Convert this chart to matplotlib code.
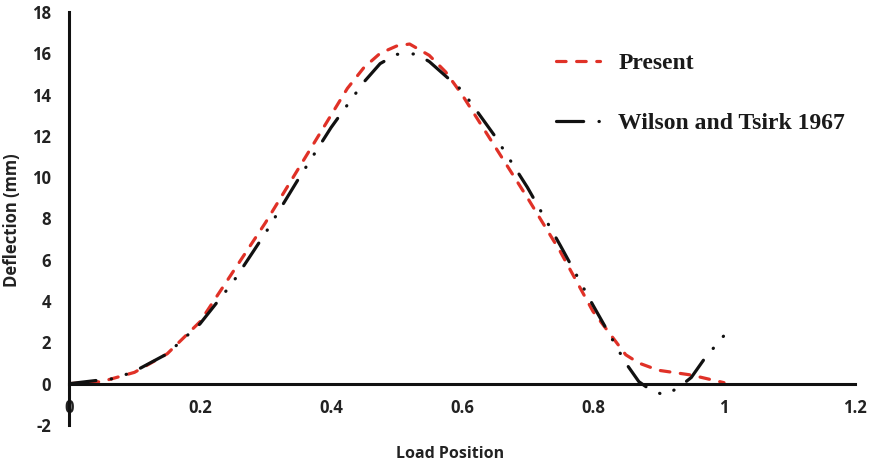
import matplotlib
matplotlib.use("Agg")
import matplotlib.pyplot as plt

plt.rcParams["axes.unicode_minus"] = False

# data
present_x = [0, 0.05, 0.1, 0.15, 0.2, 0.25, 0.3, 0.35, 0.4, 0.425, 0.45, 0.475, 0.5,
             0.52, 0.55, 0.575, 0.6, 0.65, 0.7, 0.75, 0.8, 0.85, 0.87, 0.9, 0.95, 1.0]
present_y = [0, 0.1, 0.55, 1.45, 3.0, 5.4, 7.8, 10.4, 13.0, 14.3, 15.3, 16.0, 16.35,
             16.45, 15.9, 15.1, 14.0, 11.5, 9.0, 6.4, 3.5, 1.4, 1.0, 0.65, 0.42, 0.05]

wilson_x = [0, 0.04, 0.07, 0.1, 0.15, 0.2, 0.25, 0.3, 0.35, 0.4, 0.45, 0.475, 0.5,
            0.53, 0.55, 0.6, 0.65, 0.7, 0.75, 0.8, 0.85, 0.87, 0.89, 0.91, 0.93,
            0.95, 0.97, 1.0]
wilson_y = [0, 0.15, 0.25, 0.6, 1.45, 2.9, 4.9, 7.3, 9.9, 12.4, 14.6, 15.5, 15.95,
            15.97, 15.6, 14.2, 12.0, 9.5, 6.7, 3.8, 1.0, 0.1, -0.35, -0.55, -0.2,
            0.3, 1.2, 2.33]

xticks = [0, 0.2, 0.4, 0.6, 0.8, 1, 1.2]
xticklabels = ["0", "0.2", "0.4", "0.6", "0.8", "1", "1.2"]
yticks = list(range(-2, 19, 2))

fig = plt.figure(figsize=(8.74, 4.68), dpi=100)
ax = fig.add_axes([69 / 874, 1 - 425 / 468, 786 / 874, 413 / 468])

ax.plot(present_x, present_y, color="#e03127", lw=2.3,
        linestyle=(0, (3.0, 3.3)), dash_capstyle="round", label="Present")
ax.plot(wilson_x, wilson_y, color="#111111", lw=2.3,
        linestyle=(0, (8.5, 4.8, 0.1, 4.8, 0.1, 4.8)), dash_capstyle="round",
        label="Wilson and Tsirk 1967")

ax.set_xlim(0, 1.2)
ax.set_ylim(-2, 18)
ax.set_xticks(xticks)
ax.set_xticklabels(xticklabels)
ax.set_yticks(yticks)

ax.spines["top"].set_visible(False)
ax.spines["right"].set_visible(False)
ax.spines["bottom"].set_position(("data", 0))
for s in ("left", "bottom"):
    ax.spines[s].set_linewidth(2.2)
    ax.spines[s].set_color("#111111")

tick_font = dict(family="Open Sans", weight="bold", size=12)
ax.tick_params(axis="both", length=0, colors="#222222")
ax.tick_params(axis="x", pad=11)
ax.tick_params(axis="y", pad=13)
for lab in ax.get_xticklabels() + ax.get_yticklabels():
    lab.set_fontproperties(matplotlib.font_manager.FontProperties(**tick_font))

ax.set_xlabel("Load Position", fontfamily="Open Sans", fontweight="bold",
              fontsize=11.5, color="#222222")
ax.xaxis.set_label_coords(0.485, -0.05)
ax.set_ylabel("Deflection (mm)", fontfamily="Open Sans", fontweight="bold",
              fontsize=12, color="#222222")
ax.yaxis.set_label_coords(-0.061, 0.495)

leg = ax.legend(loc="upper left", bbox_to_anchor=(0.592, 0.953), frameon=False,
                prop=dict(family="Liberation Serif", weight="bold", size=17),
                labelspacing=1.63, handlelength=1.9, handletextpad=0.75)
for t in leg.get_texts():
    t.set_color("#1a1a1a")

fig.savefig("out.png", dpi=100)
